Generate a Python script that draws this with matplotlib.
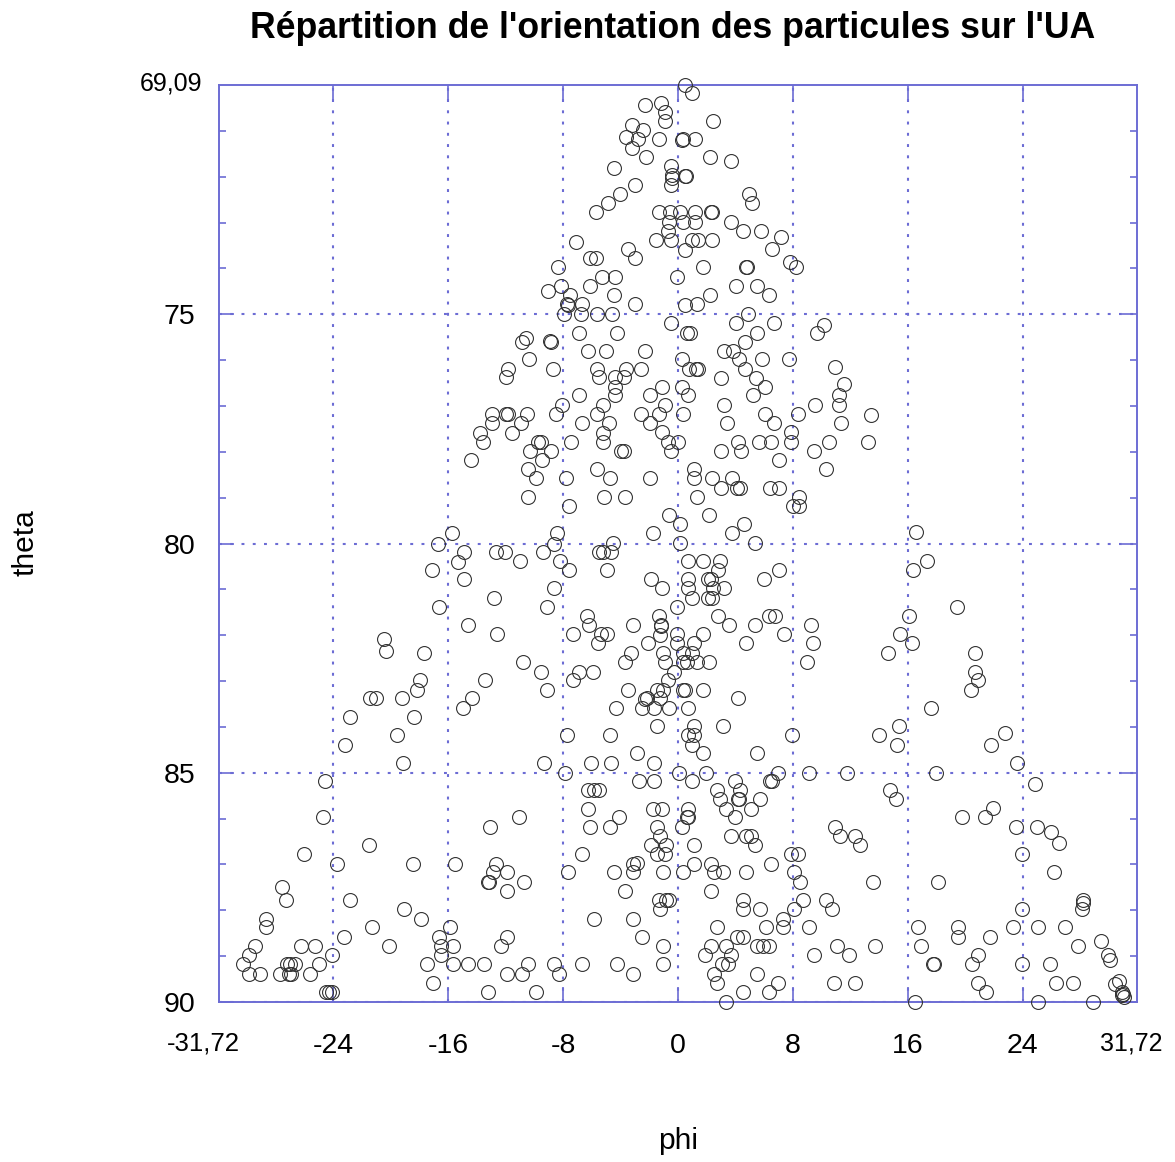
import numpy as np
import matplotlib
matplotlib.use('Agg')
import matplotlib.pyplot as plt
from matplotlib.ticker import FixedLocator

# (phi, theta)
upper_left = [(-2.28,70.44),(-1.16,70.39),(-0.93,70.58),(-0.93,70.78),(-3.2,70.87),(-2.42,70.98),
(-3.62,71.13),(-2.81,71.18),(-1.35,71.18),(0.3,71.19),(-3.23,71.38),(-2.23,71.58),(-4.44,71.82),
(-0.49,71.77),(-0.39,71.96),(-0.44,72.02),(-0.49,72.18),(0.51,71.99),(-3.0,72.18),(-4.04,72.38),
(-4.9,72.58),(-5.71,72.78),(-1.35,72.78),(-0.53,72.78),(0.12,72.78),(-0.6,72.98),(0.33,72.99),
(-0.7,73.18),(-1.56,73.38),(-0.49,73.38),(-7.11,73.42),(-3.46,73.58),(0.49,73.59),(-6.13,73.78),
(-5.71,73.78),(-3.0,73.78),(-8.38,73.98),(-5.27,74.18),(-4.41,74.18),(-0.05,74.18),(-6.13,74.38),
(-8.15,74.38),(-9.06,74.49),(-4.44,74.58),(-7.55,74.58),(-7.76,74.78),(-7.64,74.8),(-6.71,74.78),
(-3.0,74.78),(0.49,74.8),(-7.97,75.0),(-6.73,75.0),(-5.67,75.0),(-4.6,75.0),(-0.49,75.18),
(-6.87,75.4),(-4.23,75.4),(-10.59,75.52),(-10.89,75.6),(-8.92,75.58),(-8.85,75.6),(-6.27,75.8),
(-5.04,75.8),(-2.32,75.8),(0.3,75.98),(-10.38,75.98),(-8.71,76.2),(-5.67,76.2),(-3.62,76.2),
(-2.55,76.2),(-11.84,76.2),(-11.98,76.37),(-5.48,76.37),(-3.79,76.37),(-4.39,76.37),(-1.11,76.58),
(0.3,76.58),(-4.39,76.58)]

middle_left = [(-4.39,76.77),(-1.95,76.77),(-6.87,76.77),(-8.1,76.97),(-5.2,76.97),(-0.88,76.97),
(-12.98,77.17),(-11.94,77.17),(-11.8,77.17),(-10.54,77.17),(-8.5,77.17),(-5.62,77.17),(-2.55,77.17),
(-1.32,77.17),(0.33,77.17),(-12.98,77.38),(-10.94,77.38),(-6.67,77.38),(-4.78,77.38),(-1.95,77.38),
(-13.75,77.58),(-11.57,77.58),(-5.2,77.58),(-1.11,77.57),(-13.59,77.78),(-9.73,77.78),(-9.54,77.78),
(-7.43,77.78),(-5.2,77.78),(-0.67,77.78),(-0.02,77.78),(-14.42,78.17),(-10.31,77.98),(-8.85,77.98),
(-3.97,77.98),(-3.79,77.98),(-0.51,77.99),(-9.5,78.18),(-10.47,78.37),(-5.62,78.37),(-9.87,78.58),
(-7.8,78.58),(-4.76,78.58),(-1.93,78.58),(-10.43,78.98),(-5.16,78.98),(-3.69,78.98),(-7.62,79.18),
(-0.63,79.38),(0.12,79.58),(-1.72,79.78),(-15.7,79.78),(-8.43,79.78),(-8.62,80.0),(-16.72,80.0),
(-4.55,79.99),(0.12,79.99),(-14.89,80.18),(-12.68,80.18),(-12.03,80.18),(-9.43,80.18),(-5.48,80.18),
(-5.2,80.18),(-4.64,80.18),(-15.3,80.4),(-11.03,80.39),(-8.22,80.39),(-17.09,80.58),(-7.59,80.58),
(-4.95,80.58),(-14.89,80.78),(-1.88,80.78),(-8.64,80.98),(-1.11,80.98),(-12.82,81.18),(-16.67,81.38),
(-9.15,81.38),(-0.05,81.38),(-6.32,81.58),(-1.32,81.58),(-6.18,81.78),(-14.65,81.78),(-3.11,81.78),
(-1.21,81.78),(-1.21,81.8),(-20.48,82.09),(-20.32,82.35),(-17.65,82.38),(-12.59,81.98),(-7.34,81.98),
(-5.39,81.98),(-4.92,81.98),(-1.25,82.0),(-0.05,81.98),(-5.55,82.18),(-2.11,82.18),(-0.05,82.18),
(-1.07,82.38),(-3.3,82.38),(0.37,82.38),(-0.88,82.58),(-3.72,82.58),(-10.78,82.58),(0.37,82.58),
(0.6,82.58),(-9.54,82.8),(-5.92,82.8),(-6.92,82.8),(-0.28,82.8),(-17.97,82.98),(-13.4,82.98),
(-7.34,82.98),(-0.67,82.97),(-18.2,83.2),(-9.15,83.2),(-3.51,83.2),(-1.49,83.2),(-1.02,83.2),(0.37,83.2)]

lower_left = [(-21.41,83.38),(-21.0,83.38),(-19.18,83.38),(-14.35,83.38),(-2.18,83.38),(-2.3,83.4),
(-1.25,83.38),(-15.0,83.58),(-4.34,83.58),(-2.53,83.58),(-1.65,83.58),(-0.65,83.58),(-22.8,83.78),
(-18.39,83.78),(-1.49,83.98),(-19.58,84.18),(-7.71,84.18),(-4.74,84.18),(-23.15,84.4),(-2.88,84.58),
(-19.14,84.78),(-9.31,84.78),(-6.08,84.78),(-4.69,84.78),(-1.65,84.78),(-7.9,85.0),(0.09,85.0),
(-24.55,85.17),(-2.72,85.17),(-1.67,85.17),(-6.27,85.37),(-5.85,85.37),(-5.48,85.37),(-6.27,85.78),
(-1.72,85.78),(-1.09,85.78),(-24.69,85.97),(-11.1,85.97),(-4.13,85.97),(-13.1,86.18),(-6.11,86.18),
(-4.74,86.18),(-1.49,86.18),(0.3,86.19),(-1.25,86.37),(-1.9,86.58),(-0.86,86.58),(-21.48,86.58),
(-6.67,86.77),(-26.06,86.77),(-1.49,86.77),(-0.91,86.77),(-23.71,86.98),(-18.46,86.98),(-15.49,86.98),
(-12.7,86.98),(-3.11,86.98),(-2.88,86.96),(-12.87,87.16),(-11.87,87.17),(-7.66,87.17),(-4.48,87.17),
(-3.11,87.17),(-1.02,87.17),(0.33,87.17),(-13.21,87.38),(-13.14,87.38),(-10.7,87.38),(-27.56,87.49),
(-11.87,87.58),(-3.67,87.58),(-27.31,87.78),(-22.85,87.78),(-1.3,87.78),(-0.84,87.78),(-0.6,87.78),
(-19.09,87.98),(-1.25,87.98),(-28.7,88.18),(-17.86,88.18),(-5.88,88.18),(-3.11,88.18),(-28.7,88.37),
(-21.27,88.37),(-15.86,88.37),(-23.27,88.58),(-16.65,88.58),(-11.89,88.58),(-2.48,88.58),(-29.47,88.78),
(-26.24,88.78),(-25.24,88.78),(-20.11,88.78),(-16.53,88.78),(-15.65,88.78),(-12.29,88.78),(-1.05,88.78),
(-29.84,88.98),(-24.08,88.98),(-16.49,88.98),(-30.26,89.18),(-27.22,89.18),(-27.03,89.18),(-26.64,89.18),
(-25.01,89.18),(-17.49,89.18),(-15.63,89.18),(-14.65,89.18),(-13.49,89.18),(-10.47,89.18),(-8.66,89.18),
(-6.67,89.18),(-4.27,89.18),(-1.05,89.18),(-29.87,89.39),(-29.08,89.39),(-27.68,89.39),(-27.1,89.39),
(-26.92,89.39),(-25.64,89.39),(-11.87,89.39),(-10.89,89.39),(-8.27,89.39),(-3.11,89.39),(-17.05,89.58),
(-24.48,89.78),(-24.29,89.78),(-24.06,89.78),(-13.26,89.78),(-9.87,89.78)]

upper_right = [(0.51,69.99),(1.0,70.17),(2.46,70.78),(0.33,71.18),(1.18,71.18),(2.23,71.58),(3.72,71.66),
(0.56,71.98),(4.92,72.38),(5.16,72.58),(1.18,72.78),(2.28,72.78),(2.39,72.78),(1.18,72.99),(3.67,72.99),
(4.51,73.18),(5.78,73.18),(7.18,73.31),(0.95,73.38),(1.39,73.38),(2.39,73.38),(6.53,73.58),(1.76,73.98),
(4.74,73.98),(4.83,73.98),(7.8,73.85),(8.22,73.98),(4.04,74.38),(5.48,74.38),(6.32,74.58),(2.23,74.58),
(1.35,74.78),(4.88,74.99),(4.04,75.18),(6.71,75.18),(10.13,75.23),(9.71,75.41),(0.65,75.4),(0.84,75.4),
(5.48,75.4),(4.69,75.6),(3.2,75.8),(3.81,75.8),(4.23,75.98),(5.88,75.98),(7.71,75.98),(10.94,76.16),
(0.79,76.2),(1.25,76.2),(1.39,76.2),(4.69,76.2),(3.0,76.38),(5.43,76.38),(6.06,76.58),(11.57,76.53)]

middle_right = [(0.72,76.77),(5.25,76.77),(11.22,76.77),(11.22,76.97),(3.23,76.97),(9.54,76.97),(6.06,77.17),
(8.34,77.17),(13.45,77.2),(3.39,77.38),(6.69,77.38),(11.38,77.38),(7.87,77.57),(4.2,77.78),(5.64,77.78),
(6.46,77.78),(7.87,77.78),(10.54,77.78),(13.21,77.78),(3.0,77.98),(4.37,77.98),(9.48,77.98),(7.06,78.18),
(10.31,78.37),(1.11,78.37),(1.11,78.58),(2.37,78.58),(3.76,78.58),(3.0,78.78),(4.13,78.78),(4.32,78.78),
(6.41,78.78),(7.06,78.78),(1.35,78.98),(8.45,78.98),(7.99,79.18),(8.45,79.18),(2.18,79.38),(4.6,79.58),
(3.76,79.78),(16.58,79.75),(5.39,79.99),(0.72,80.39),(1.72,80.39),(2.93,80.39),(17.32,80.39),(2.81,80.58),
(7.01,80.58),(16.33,80.58),(0.72,80.78),(2.11,80.78),(2.28,80.78),(5.99,80.78),(0.72,80.98),(2.46,80.98),
(3.2,80.98),(0.95,81.18),(2.11,81.18),(2.35,81.18),(19.39,81.38),(2.76,81.58),(6.36,81.58),(6.78,81.58),
(16.09,81.58),(9.24,81.78),(3.55,81.78),(5.39,81.78),(1.72,81.98),(7.39,81.98),(15.42,81.98),(1.11,82.18),
(4.76,82.18),(9.38,82.18),(16.28,82.18),(0.95,82.38),(14.65,82.38),(20.67,82.38),(1.35,82.58),(2.16,82.58),
(9.01,82.58),(20.67,82.8),(20.85,82.98),(20.41,83.2),(0.49,83.2),(1.72,83.2)]

lower_right = [(4.18,83.38),(17.6,83.58),(0.72,83.58),(3.11,83.98),(15.37,83.98),(1.11,83.98),(0.72,84.18),
(1.11,84.18),(7.97,84.18),(13.98,84.18),(22.74,84.14),(0.95,84.4),(15.21,84.4),(21.81,84.4),(1.72,84.58),
(5.53,84.58),(23.6,84.78),(1.95,85.0),(6.94,85.0),(9.15,85.0),(11.75,85.0),(17.95,85.0),(0.95,85.17),
(3.95,85.17),(6.41,85.17),(6.57,85.17),(24.85,85.25),(2.74,85.37),(4.32,85.37),(14.77,85.37),(2.93,85.57),
(4.2,85.57),(4.27,85.57),(5.71,85.57),(15.17,85.57),(0.72,85.78),(3.32,85.78),(5.11,85.78),(21.92,85.77),
(0.6,85.97),(0.72,85.97),(3.95,85.97),(19.76,85.97),(21.37,85.97),(10.94,86.18),(23.53,86.18),(24.99,86.18),
(11.29,86.37),(12.33,86.37),(3.72,86.37),(4.74,86.37),(5.11,86.37),(25.99,86.3),(1.11,86.58),(5.34,86.58),
(12.7,86.58),(26.5,86.54),(7.85,86.77),(8.32,86.77),(23.94,86.77),(1.11,86.98),(2.32,86.98),(6.5,86.98),
(2.51,87.17),(3.16,87.17),(4.74,87.17),(8.08,87.17),(26.15,87.17),(8.5,87.38),(13.54,87.38),(18.09,87.38),
(2.32,87.58),(4.5,87.78),(8.73,87.78),(10.31,87.78),(28.17,87.78),(28.17,87.85),(4.5,87.98),(5.71,87.98),
(8.08,87.98),(10.73,87.98),(23.94,87.98),(28.12,87.98),(7.34,88.18),(2.74,88.37),(6.13,88.37),(7.34,88.37),
(9.1,88.37),(16.7,88.37),(19.51,88.37),(23.32,88.37),(25.08,88.37),(26.94,88.37),(4.13,88.58),(4.5,88.58),
(19.51,88.58),(21.71,88.58),(29.47,88.66),(2.32,88.78),(3.34,88.78),(5.48,88.78),(5.95,88.78),(6.36,88.78),
(11.1,88.78),(13.72,88.78),(16.93,88.78),(27.87,88.78),(1.88,88.98),(3.72,88.98),(9.5,88.98),(11.89,88.98),
(20.88,88.98),(29.91,88.98),(30.05,89.09),(3.04,89.18),(3.51,89.18),(17.72,89.18),(17.84,89.18),(20.48,89.18),
(23.94,89.18),(25.87,89.18),(2.51,89.39),(5.53,89.39),(2.69,89.58),(6.94,89.58),(10.87,89.58),(12.33,89.58),
(20.85,89.58),(26.34,89.58),(27.5,89.58),(30.68,89.55),(30.45,89.6),(4.5,89.78),(6.32,89.78),(21.46,89.78),
(30.91,89.78),(30.98,89.83),(30.91,89.85),(3.34,90.0),(16.49,90.0),(25.08,90.0),(28.89,90.0),(31.03,89.9)]

x_ticks = [-24, -16, -8, 0, 8, 16, 24]
y_ticks = [75, 80, 85]
x_end_labels = ['-31,72', '31,72']
y_top_label = '69,09'
blue = '#6c6cd4'

plt.rcParams['font.family'] = ['Liberation Sans', 'DejaVu Sans']

pts = np.array(upper_left + middle_left + lower_left + upper_right + middle_right + lower_right)

fig = plt.figure(figsize=(11.75, 11.62), dpi=100)
ax = fig.add_axes([219/1175, 1 - 1002/1162, 918/1175, 917/1162])
ax.set_xlim(-31.95, 31.95)
ax.set_ylim(90, 70)

ax.grid(True, which='major', color=blue, linestyle=(0, (1.4, 4)), linewidth=1.5)
ax.set_axisbelow(True)
ax.plot(pts[:, 0], pts[:, 1], 'o', mfc='none', mec='#333333', mew=0.8, ms=10, clip_on=False, zorder=3)

for s in ax.spines.values():
    s.set_color(blue)
    s.set_linewidth(1.4)

ax.set_xticks(x_ticks)
ax.yaxis.set_minor_locator(FixedLocator([t for t in range(71, 90) if t not in y_ticks]))
ax.tick_params(axis='both', which='major', direction='in', length=11, width=1.2, color=blue,
               top=True, right=True, labelsize=20.5)
ax.tick_params(axis='y', which='minor', direction='in', length=5, width=1.2, color=blue, left=True, right=True)
ax.tick_params(axis='x', which='major', pad=22)
ax.tick_params(axis='y', which='major', pad=17)
ax.set_yticks(y_ticks + [90])
ax.set_xticklabels([str(t) for t in x_ticks])

# end labels are drawn apart, they are smaller than the others
fig.text(203/1175, 1 - 1044/1162, x_end_labels[0], fontsize=18.5, ha='center', va='center')
fig.text(1131/1175, 1 - 1044/1162, x_end_labels[1], fontsize=18, ha='center', va='center')
fig.text(171/1175, 1 - 84/1162, y_top_label, fontsize=18, ha='center', va='center')

fig.text(673/1175, 1 - 29/1162, "Répartition de l'orientation des particules sur l'UA",
         fontsize=25.7, fontweight='bold', ha='center', va='center')
fig.text(678/1175, 1 - 1141/1162, 'phi', fontsize=21.5, ha='center', va='center')
fig.text(25/1175, 1 - 543/1162, 'theta', fontsize=21.5, rotation=90, ha='center', va='center')

fig.savefig('out.png', dpi=100)
